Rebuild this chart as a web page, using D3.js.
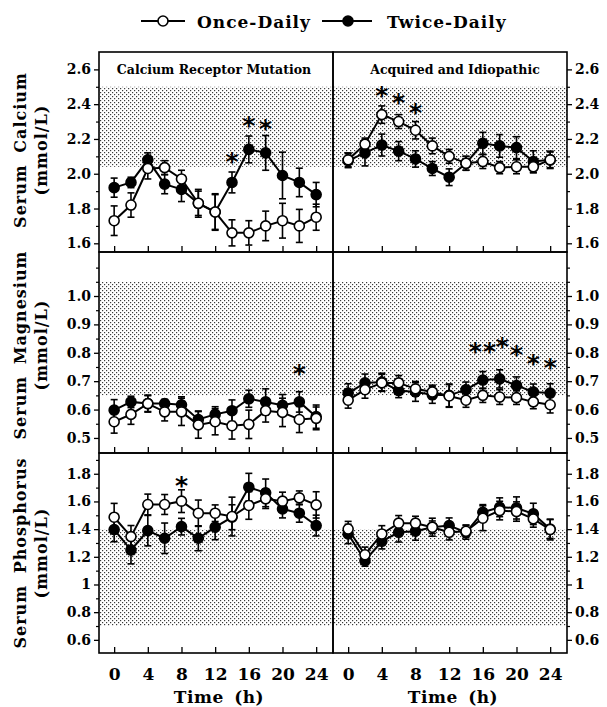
<!DOCTYPE html>
<html><head><meta charset="utf-8">
<script src="https://cdn.jsdelivr.net/npm/d3@7"></script>
<style>body{margin:0;background:#fff}</style></head>
<body>
<svg id="chart" width="607" height="707"></svg>
<script>
// ---------- DATA ----------
const times = [0,2,4,6,8,10,12,14,16,18,20,22,24];
const xTicks = [0,4,8,12,16,20,24];
const seriesNames = ["Once-Daily","Twice-Daily"];
const panelTitles = ["Calcium Receptor Mutation","Acquired and Idiopathic"];
const rowLabels = [["Serum Calcium","(mmol/L)"],["Serum Magnesium","(mmol/L)"],["Serum Phosphorus","(mmol/L)"]];
const xLabel = "Time (h)";

// Calcium
const caMutOnce   = [1.73,1.82,2.03,2.035,1.97,1.83,1.78,1.66,1.66,1.70,1.73,1.70,1.75];
const caMutOnceSE = [0.085,0.07,0.06,0.04,0.05,0.08,0.105,0.075,0.07,0.085,0.10,0.095,0.075];
const caMutTwice   = [1.92,1.95,2.08,1.94,1.91,1.83,1.78,1.95,2.14,2.12,1.99,1.95,1.88];
const caMutTwiceSE = [0.055,0.03,0.04,0.055,0.07,0.07,0.10,0.06,0.077,0.10,0.134,0.082,0.07];
const caAcqOnce   = [2.08,2.17,2.34,2.30,2.25,2.16,2.10,2.06,2.07,2.035,2.04,2.04,2.08];
const caAcqOnceSE = [0.04,0.035,0.05,0.04,0.05,0.045,0.04,0.04,0.04,0.035,0.04,0.035,0.045];
const caAcqTwice   = [2.075,2.12,2.165,2.13,2.085,2.03,1.98,2.06,2.175,2.16,2.15,2.07,2.08];
const caAcqTwiceSE = [0.04,0.075,0.063,0.055,0.047,0.04,0.048,0.04,0.063,0.065,0.063,0.062,0.05];
// Magnesium
const mgMutOnce   = [0.557,0.583,0.621,0.592,0.592,0.546,0.557,0.543,0.548,0.596,0.59,0.565,0.569];
const mgMutOnceSE = [0.04,0.035,0.03,0.032,0.048,0.047,0.046,0.047,0.05,0.04,0.05,0.046,0.04];
const mgMutTwice   = [0.598,0.627,0.621,0.621,0.617,0.565,0.583,0.596,0.638,0.627,0.615,0.627,0.575];
const mgMutTwiceSE = [0.037,0.02,0.028,0.015,0.028,0.03,0.027,0.038,0.03,0.046,0.038,0.036,0.041];
const mgAcqOnce   = [0.633,0.67,0.694,0.694,0.673,0.662,0.648,0.633,0.65,0.644,0.642,0.627,0.617];
const mgAcqOnceSE = [0.028,0.03,0.03,0.026,0.026,0.024,0.04,0.025,0.025,0.026,0.024,0.024,0.029];
const mgAcqTwice   = [0.658,0.694,0.697,0.667,0.662,0.652,0.65,0.67,0.704,0.708,0.685,0.662,0.658];
const mgAcqTwiceSE = [0.033,0.031,0.031,0.025,0.033,0.03,0.04,0.027,0.03,0.032,0.03,0.028,0.033];
// Phosphorus
const pMutOnce   = [1.486,1.346,1.578,1.578,1.602,1.515,1.515,1.491,1.571,1.619,1.602,1.626,1.575];
const pMutOnceSE = [0.10,0.08,0.075,0.072,0.082,0.095,0.06,0.14,0.10,0.07,0.065,0.05,0.095];
const pMutTwice   = [1.397,1.249,1.389,1.334,1.418,1.334,1.414,1.486,1.703,1.662,1.546,1.515,1.426];
const pMutTwiceSE = [0.088,0.10,0.11,0.11,0.06,0.09,0.09,0.09,0.10,0.10,0.065,0.065,0.075];
const pAcqOnce   = [1.401,1.215,1.365,1.443,1.443,1.414,1.377,1.385,1.479,1.534,1.527,1.474,1.397];
const pAcqOnceSE = [0.055,0.055,0.06,0.055,0.05,0.065,0.055,0.045,0.09,0.067,0.07,0.06,0.075];
const pAcqTwice   = [1.365,1.172,1.312,1.377,1.385,1.414,1.426,1.377,1.522,1.558,1.553,1.51,1.401];
const pAcqTwiceSE = [0.07,0.04,0.055,0.07,0.065,0.045,0.055,0.05,0.055,0.068,0.08,0.077,0.068];

// significance stars: [time, value]
const caMutStars = [[14,2.10],[16,2.31],[18,2.29]];
const caAcqStars = [[4,2.48],[6,2.44],[8,2.385]];
const mgMutStars = [[22,0.746]];
const mgAcqStars = [[15.1,0.824],[16.8,0.824],[18.3,0.841],[20,0.812],[22,0.781],[24,0.768]];
const pMutStars  = [[8,1.757]];
const pAcqStars  = [];

// y domains, ticks, normal ranges
const caDomain = [1.55,2.7],  caMajor = [1.6,1.8,2.0,2.2,2.4,2.6], caMinor = [1.7,1.9,2.1,2.3,2.5], caRange = [2.04,2.5];
const mgDomain = [0.447,1.155], mgMajor = [0.5,0.6,0.7,0.8,0.9,1.0], mgMinor = [0.55,0.65,0.75,0.85,0.95,1.05,1.1], mgRange = [0.65,1.05];
const pDomain  = [0.505,1.95], pMajor = [0.6,0.8,1,1.2,1.4,1.6,1.8], pMinor = [0.7,0.9,1.1,1.3,1.5,1.7,1.9], pRange = [0.7,1.4];

// ---------- LAYOUT ----------
const svg = d3.select("#chart");
const FONT = "DejaVu Serif";
const colX = [[99,333],[333,567]];
const rowY = [[52,252],[252,453],[453,653]];

const defs = svg.append("defs");
const pat = defs.append("pattern").attr("id","stip").attr("patternUnits","userSpaceOnUse")
  .attr("width",4).attr("height",4);
pat.append("rect").attr("x",0).attr("y",0).attr("width",1.2).attr("height",1.2).attr("fill","#3a3a3a");
pat.append("rect").attr("x",2).attr("y",2).attr("width",1.2).attr("height",1.2).attr("fill","#3a3a3a");

const rows = [
  {domain:caDomain, major:caMajor, minor:caMinor, range:caRange, fmt:d3.format(".1f"),
   panels:[{once:caMutOnce,onceSE:caMutOnceSE,twice:caMutTwice,twiceSE:caMutTwiceSE,stars:caMutStars},
           {once:caAcqOnce,onceSE:caAcqOnceSE,twice:caAcqTwice,twiceSE:caAcqTwiceSE,stars:caAcqStars}]},
  {domain:mgDomain, major:mgMajor, minor:mgMinor, range:mgRange, fmt:d3.format(".1f"),
   panels:[{once:mgMutOnce,onceSE:mgMutOnceSE,twice:mgMutTwice,twiceSE:mgMutTwiceSE,stars:mgMutStars},
           {once:mgAcqOnce,onceSE:mgAcqOnceSE,twice:mgAcqTwice,twiceSE:mgAcqTwiceSE,stars:mgAcqStars}]},
  {domain:pDomain, major:pMajor, minor:pMinor, range:pRange, fmt:d=>String(d),
   panels:[{once:pMutOnce,onceSE:pMutOnceSE,twice:pMutTwice,twiceSE:pMutTwiceSE,stars:pMutStars},
           {once:pAcqOnce,onceSE:pAcqOnceSE,twice:pAcqTwice,twiceSE:pAcqTwiceSE,stars:pAcqStars}]}
];

rows.forEach((row,ri)=>{
  const y = d3.scaleLinear().domain(row.domain).range([rowY[ri][1],rowY[ri][0]]);
  row.panels.forEach((p,ci)=>{
    const x = d3.scaleLinear().domain([-1.8,26]).range(colX[ci]);
    const g = svg.append("g");
    // normal range band
    g.append("rect").attr("x",colX[ci][0]).attr("width",colX[ci][1]-colX[ci][0])
      .attr("y",y(row.range[1])).attr("height",y(row.range[0])-y(row.range[1]))
      .attr("fill","url(#stip)");
    // x ticks (inward)
    const xa = d3.axisBottom(x).tickValues(xTicks).tickSizeInner(-6).tickSizeOuter(0)
      .tickFormat(ri===2 ? d3.format("d") : "");
    const xg = g.append("g").attr("transform",`translate(0,${rowY[ri][1]})`).call(xa);
    xg.select(".domain").remove();
    xg.selectAll("line").attr("stroke","#000").attr("stroke-width",1.3);
    xg.selectAll("text").attr("font-family",FONT).attr("font-weight","bold").attr("font-size",17)
      .attr("fill","#000").attr("y",15);
    // y axis
    const ya = (ci===0? d3.axisLeft(y) : d3.axisRight(y)).tickValues(row.major).tickSize(5).tickPadding(3)
      .tickFormat(row.fmt);
    const ygr = g.append("g").attr("transform",`translate(${ci===0?colX[0][0]:colX[1][1]},0)`).call(ya);
    ygr.select(".domain").remove();
    ygr.selectAll("line").attr("stroke","#000").attr("stroke-width",1.3);
    ygr.selectAll("text").attr("font-family",FONT).attr("font-weight","bold").attr("font-size",14).attr("fill","#000");
    const ym = (ci===0? d3.axisLeft(y) : d3.axisRight(y)).tickValues(row.minor).tickSize(3).tickFormat("");
    const ymg = g.append("g").attr("transform",`translate(${ci===0?colX[0][0]:colX[1][1]},0)`).call(ym);
    ymg.select(".domain").remove();
    ymg.selectAll("line").attr("stroke","#000").attr("stroke-width",1.2);

    // series
    const series = [
      {v:p.twice, se:p.twiceSE, fill:"#000"},
      {v:p.once, se:p.onceSE, fill:"#fff"}
    ];
    const line = d3.line().x((d,i)=>x(times[i])).y(d=>y(d));
    series.forEach(s=>{
      g.append("path").datum(s.v).attr("d",line).attr("fill","none").attr("stroke","#000").attr("stroke-width",2);
    });
    series.forEach(s=>{
      const eb = g.append("g");
      s.v.forEach((v,i)=>{
        const cx = x(times[i]), y1 = y(v+s.se[i]), y0 = y(v-s.se[i]);
        eb.append("line").attr("x1",cx).attr("x2",cx).attr("y1",y1).attr("y2",y0).attr("stroke","#000").attr("stroke-width",1.6);
        [y1,y0].forEach(yy=>eb.append("line").attr("x1",cx-3.5).attr("x2",cx+3.5).attr("y1",yy).attr("y2",yy)
          .attr("stroke","#000").attr("stroke-width",1.6));
      });
    });
    series.forEach(s=>{
      g.selectAll(null).data(s.v).enter().append("circle")
        .attr("cx",(d,i)=>x(times[i])).attr("cy",d=>y(d)).attr("r",5)
        .attr("fill",s.fill).attr("stroke","#000").attr("stroke-width",1.6);
    });
    // stars
    g.selectAll(null).data(p.stars).enter().append("text")
      .attr("x",d=>x(d[0])).attr("y",d=>y(d[1])+14).attr("text-anchor","middle")
      .attr("font-family","DejaVu Sans").attr("font-size",25).attr("font-weight","bold").text("*");

    // frame
    g.append("rect").attr("x",colX[ci][0]).attr("y",rowY[ri][0])
      .attr("width",colX[ci][1]-colX[ci][0]).attr("height",rowY[ri][1]-rowY[ri][0])
      .attr("fill","none").attr("stroke","#000").attr("stroke-width",1.6);

    if(ri===0){
      g.append("text").attr("x",(colX[ci][0]+colX[ci][1])/2 + (ci===1?5:-2)).attr("y",74)
        .attr("text-anchor","middle").attr("font-family",FONT).attr("font-weight","bold")
        .attr("font-size",12.5).text(panelTitles[ci]);
    }
    if(ri===2){
      g.append("text").attr("x",(colX[ci][0]+colX[ci][1])/2 + 3).attr("y",703)
        .attr("text-anchor","middle").attr("font-family",FONT).attr("font-weight","bold")
        .attr("font-size",17).attr("letter-spacing",0.5).attr("word-spacing",4).text(xLabel);
    }
  });
  // row labels
  const cy = [150,345,553][ri];
  rowLabels[ri].forEach((t,k)=>{
    svg.append("text").attr("transform",`translate(${[20,41][k]},${cy}) rotate(-90)`)
      .attr("text-anchor","middle").attr("dominant-baseline","central")
      .attr("font-family",FONT).attr("font-weight","bold").attr("font-size",16)
      .attr("letter-spacing",1).attr("word-spacing",5).text(t);
  });
});

// legend
const leg = svg.append("g");
const legItems = [{x1:141,x2:185,cx:163,tx:197,fill:"#fff"},{x1:322,x2:372,cx:348,tx:387,fill:"#000"}];
legItems.forEach((L,i)=>{
  leg.append("line").attr("x1",L.x1).attr("x2",L.x2).attr("y1",21).attr("y2",21).attr("stroke","#000").attr("stroke-width",2);
  leg.append("circle").attr("cx",L.cx).attr("cy",21).attr("r",5).attr("fill",L.fill).attr("stroke","#000").attr("stroke-width",1.6);
  leg.append("text").attr("x",L.tx).attr("y",28).attr("font-family",FONT).attr("font-weight","bold")
    .attr("font-size",17).attr("letter-spacing",1).text(seriesNames[i]);
});
</script>
</body></html>
